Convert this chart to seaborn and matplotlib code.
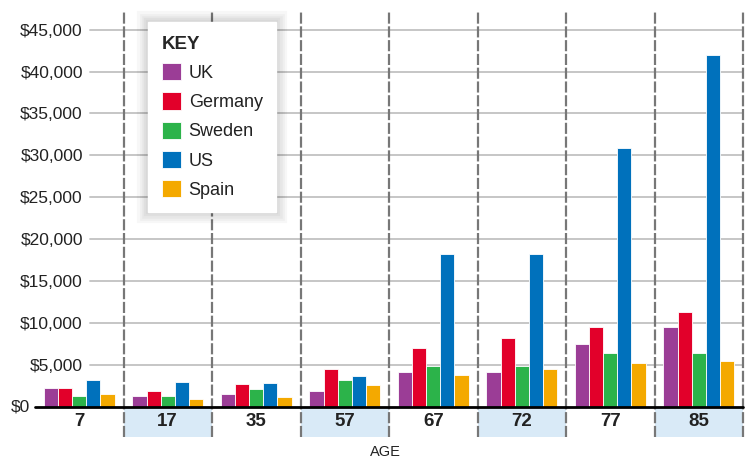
import matplotlib
matplotlib.use("Agg")
import matplotlib.pyplot as plt
import matplotlib.patheffects as pe
import seaborn as sns
import pandas as pd
from matplotlib.transforms import blended_transform_factory

# Average annual health spending per person, by age
ages = ["7", "17", "35", "57", "67", "72", "77", "85"]
countries = ["UK", "Germany", "Sweden", "US", "Spain"]
uk = [2200, 1300, 1500, 1900, 4200, 4200, 7500, 9500]
germany = [2200, 1900, 2700, 4500, 7000, 8200, 9500, 11300]
sweden = [1300, 1300, 2100, 3200, 4900, 4900, 6400, 6400]
us = [3200, 3000, 2800, 3700, 18200, 18200, 30900, 42000]
spain = [1500, 900, 1200, 2550, 3800, 4500, 5200, 5500]
colors = ["#9b3d96", "#e2002a", "#2cb34a", "#0071bc", "#f4a900"]
yticks = [0, 5000, 10000, 15000, 20000, 25000, 30000, 35000, 40000, 45000]
ytick_labels = ["$0", "$5,000", "$10,000", "$15,000", "$20,000", "$25,000",
                "$30,000", "$35,000", "$40,000", "$45,000"]

series = {"UK": uk, "Germany": germany, "Sweden": sweden, "US": us, "Spain": spain}
df = pd.DataFrame([
    {"age": a, "country": c, "value": v}
    for c in countries for a, v in zip(ages, series[c])
])

sns.set_style("white")
plt.rcParams["font.family"] = ["Liberation Sans", "DejaVu Sans"]

W, H = 746, 462
fig = plt.figure(figsize=(W / 100, H / 100), dpi=100)
left_px, right_px, top_px, base_px = 35, 743, 10, 406.7
ax = fig.add_axes([left_px / W, (H - base_px) / H,
                   (right_px - left_px) / W, (base_px - top_px) / H])

sns.barplot(data=df, x="age", y="value", hue="country", order=ages,
            hue_order=countries, palette=colors, width=0.8, saturation=1,
            edgecolor="white", linewidth=0.6, ax=ax, zorder=3)

ylim_top = 47340
ax.set_ylim(0, ylim_top)
ax.set_xlim(-0.5, len(ages) - 0.5)
for s in ax.spines.values():
    s.set_visible(False)

ax_h = base_px - top_px
ax_w = right_px - left_px

# horizontal gridlines start right of the value labels
for y in yticks[1:]:
    ax.axhline(y, xmin=55 / ax_w, xmax=1, color="#c2c2c2", lw=1.3, zorder=0)

# baseline
ax.axhline(0, color="black", lw=2, zorder=5, clip_on=False)

# shaded age-label band for alternate groups
band_top = -1.0 / ax_h
band_bot = -(437 - base_px) / ax_h
for i in range(1, len(ages), 2):
    ax.axvspan(i - 0.5, i + 0.5, ymin=band_bot, ymax=band_top,
               color="#d9eaf7", lw=0, clip_on=False, zorder=0)

# dashed dividers between age groups
for i in range(len(ages)):
    ax.axvline(i + 0.5, ymin=band_bot, ymax=1, color="#777777", lw=1.6,
               ls=(0, (5, 1.2)), clip_on=False, zorder=1)

# axis labels
ax.set_xticks(range(len(ages)))
ax.set_xticklabels(ages, fontsize=13.5, fontweight="bold", color="#222222")
ax.tick_params(axis="x", length=0, pad=4.5)
ax.set_yticks(yticks[1:])
ax.set_yticklabels(ytick_labels[1:], fontsize=12.5, color="#222222")
ax.tick_params(axis="y", length=0, pad=-34.5)
for lab in ax.get_yticklabels():
    lab.set_horizontalalignment("right")
ax.text(-5 / ax_w, 0, ytick_labels[0], fontsize=12.5, color="#222222",
        ha="right", va="center",
        transform=blended_transform_factory(ax.transAxes, ax.transData))
ax.set_xlabel("")
ax.set_ylabel("")
fig.text(385 / W, 1 - 452 / H, "AGE", ha="center", va="center",
         fontsize=10.5, color="#222222")

handles, labels = ax.get_legend_handles_labels()
leg = ax.legend(handles, labels, title="KEY", loc="upper left",
                bbox_to_anchor=(148 / W, 1 - 22 / H),
                bbox_transform=fig.transFigure,
                frameon=True, fancybox=False, framealpha=1,
                edgecolor="white", facecolor="white",
                fontsize=13, title_fontproperties={"weight": "bold", "size": 13.5},
                alignment="left", handlelength=1.1, handleheight=1.1,
                handletextpad=0.4, labelspacing=0.58, borderpad=0.75,
                borderaxespad=0)
leg.set_zorder(10)
# soft shadow around the key box
glow = [pe.Stroke(linewidth=w, foreground="black", alpha=0.03)
        for w in (16, 12, 9, 6, 3)]
leg.get_frame().set_path_effects(glow + [pe.Normal()])
for t in leg.get_texts():
    t.set_color("#222222")

fig.savefig("out.png", dpi=100)
